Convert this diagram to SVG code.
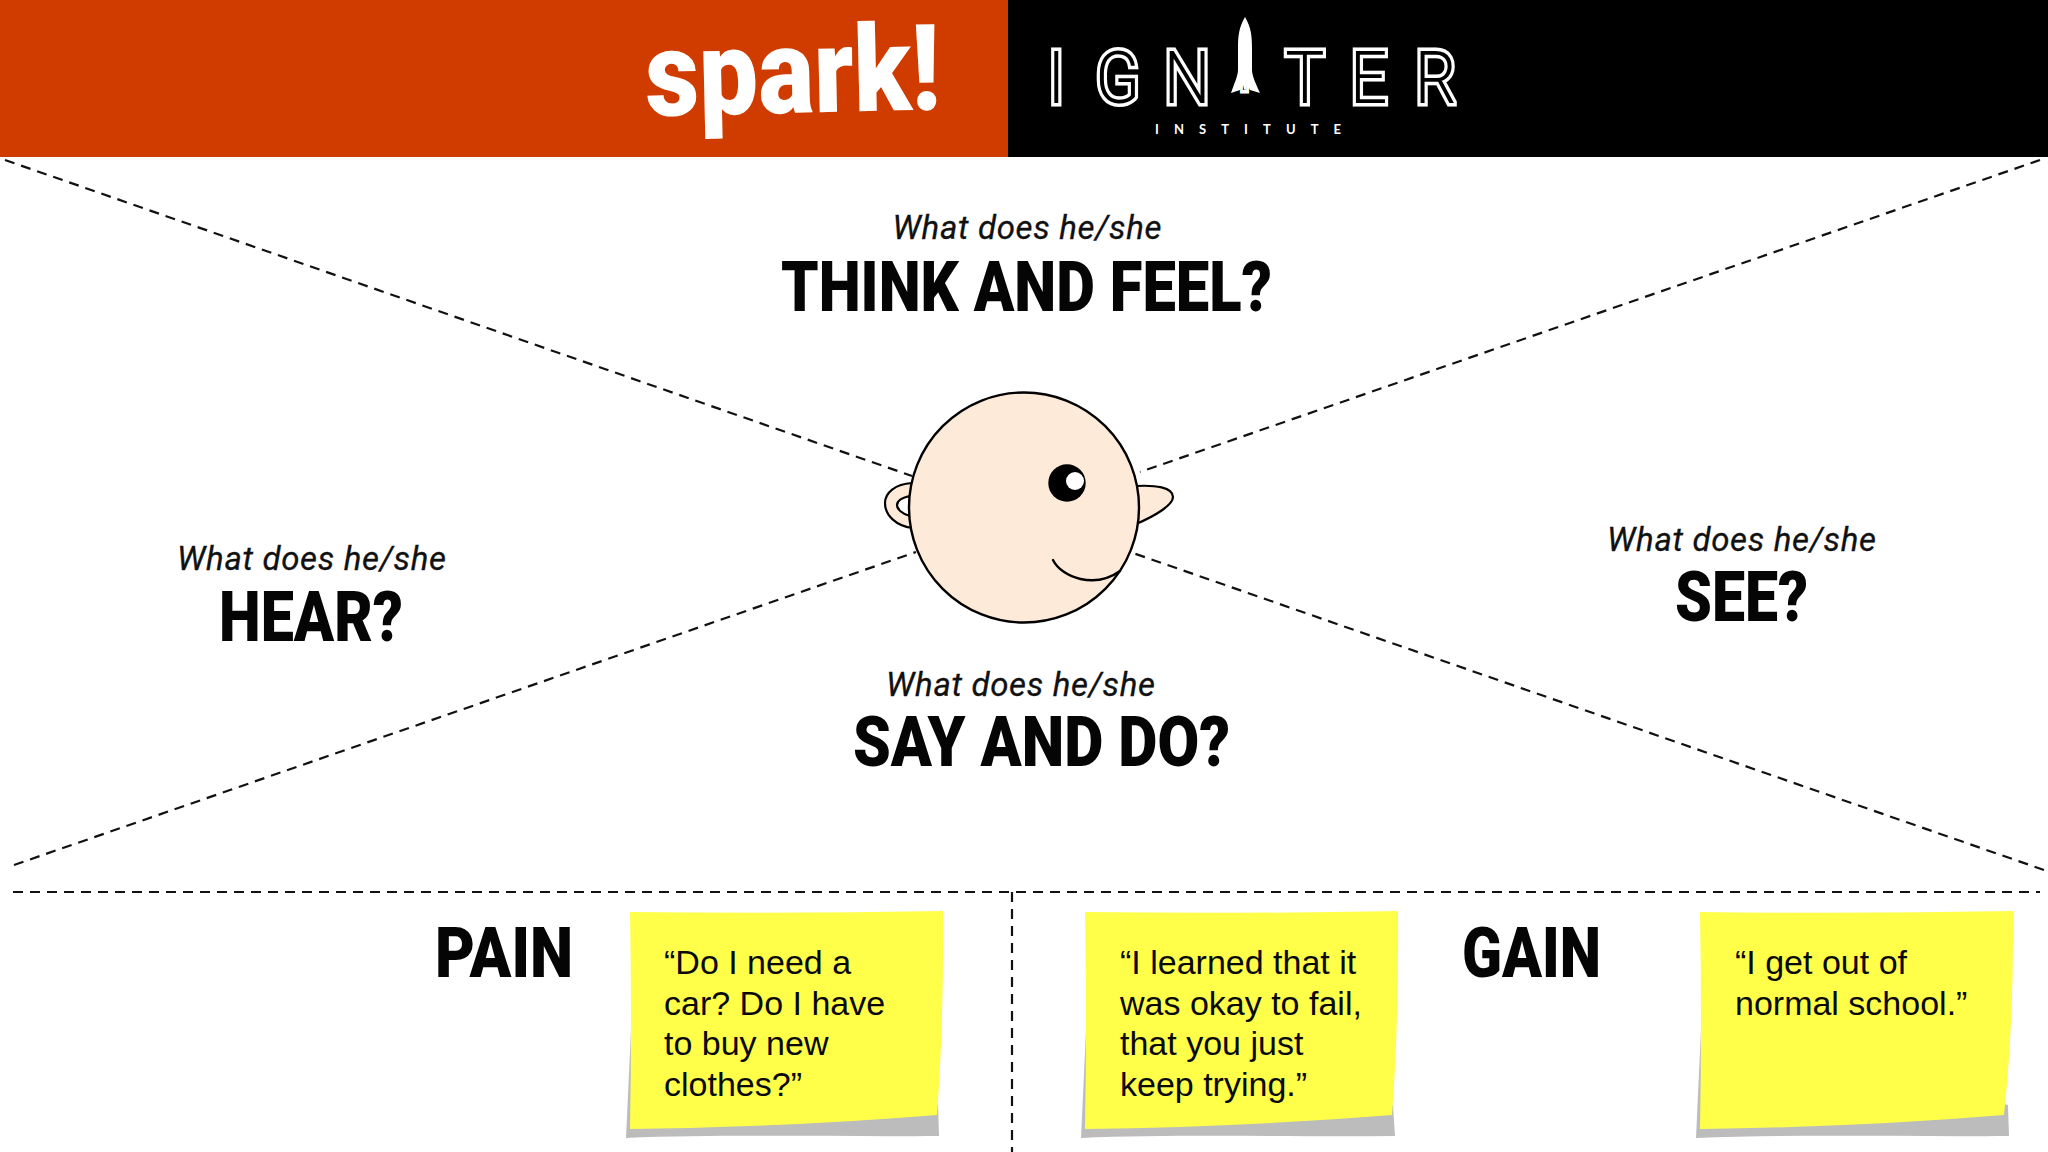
<svg xmlns="http://www.w3.org/2000/svg" width="2048" height="1152" viewBox="0 0 2048 1152">
<style>
.q{font-family:Roboto,"Open Sans",sans-serif;font-style:italic;font-size:33px;fill:#111;stroke:#111;stroke-width:.3}
.h{font-family:Roboto,"Open Sans",sans-serif;font-weight:900;font-size:71px;fill:#050505}
.n{font-family:"Liberation Sans",Arial,sans-serif;font-size:34px;fill:#0a0a0a}
.d{fill:none;stroke:#111;stroke-width:2.2;stroke-dasharray:10 7}
.o{stroke:#000;stroke-width:2.4;stroke-linecap:round}
.stick{fill:#ffff4a}
.sh{fill:#bcbcbc}
.ig{font-family:Roboto,sans-serif;font-weight:300;font-size:73px;fill:#000;stroke:#fff;stroke-width:7;paint-order:stroke}
</style>
<rect width="2048" height="1152" fill="#fff"/>
<g id="header">
<rect x="0" y="0" width="1008" height="157" fill="#d03c00"/>
<rect x="1008" y="0" width="1040" height="157" fill="#000"/>
<text transform="rotate(-1.3 646 116)" x="646" y="116" font-family="Roboto,sans-serif" font-weight="900" font-size="120" fill="#fff" textLength="295" lengthAdjust="spacingAndGlyphs">spark!</text>
<text class="ig" y="103" transform="scale(.9 1)"><tspan x="1164">I</tspan><tspan x="1217">G</tspan><tspan x="1293">N</tspan><tspan x="1376" y="90" font-size="50">I</tspan><tspan x="1428" y="103">T</tspan><tspan x="1500">E</tspan><tspan x="1572">R</tspan></text>
<path d="M1245 17C1239 27 1238 36 1238 48V70C1238 76 1234 84 1231 93L1240 90L1243 85L1245 92L1247 85L1250 90L1260 93C1256 84 1252 76 1252 70V48C1252 36 1251 27 1245 17Z" fill="#fff"/>
<text x="1155" y="134" font-family="Lato,'Open Sans',sans-serif" font-weight="700" font-size="13" fill="#fff" textLength="186">INSTITUTE</text>
</g>
<g id="connectors">
<path class="d" d="M5 160L912 476"/>
<path class="d" d="M2040 160L1140 472"/>
<path class="d" d="M14 865L916 552"/>
<path class="d" d="M2044 870L1133 553"/>
<path class="d" d="M13 892H2040"/>
<path class="d" d="M1012 892V1152"/>
</g>
<g id="head">
<path d="M912 483C895 484 885 493 885 503C885 516 897 526 912 528Z" fill="#feead9" stroke="#000" stroke-width="2.2"/>
<path d="M910 496C901 498 897 501 897 505C897 509 902 514 910 516Z" fill="#fff" stroke="#000" stroke-width="2.2"/>
<path d="M1136 486C1155 485 1173 487 1173 497C1173 505 1155 516 1136 524Z" fill="#feead9" stroke="#000" stroke-width="2.2"/>
<circle cx="1024" cy="507.5" r="115" fill="#feead9" stroke="#000" stroke-width="2.4"/>
<circle cx="1067" cy="483" r="18.7" fill="#000"/>
<circle cx="1075" cy="481" r="9" fill="#fff"/>
<path class="o" fill="none" d="M1053 560C1062 578 1095 589 1120 571"/>
</g>
<g id="think"><text class="q" x="892.500" y="239" textLength="269">What does he/she</text><text class="h" x="781" y="311" textLength="491" lengthAdjust="spacingAndGlyphs">THINK AND FEEL?</text></g>
<g id="hear"><text class="q" x="177" y="570" textLength="269">What does he/she</text><text class="h" x="219" y="641" textLength="184" lengthAdjust="spacingAndGlyphs">HEAR?</text></g>
<g id="see"><text class="q" x="1607" y="551" textLength="269">What does he/she</text><text class="h" x="1675" y="621" textLength="133" lengthAdjust="spacingAndGlyphs">SEE?</text></g>
<g id="say"><text class="q" x="886" y="696" textLength="269">What does he/she</text><text class="h" x="853" y="766" textLength="377" lengthAdjust="spacingAndGlyphs">SAY AND DO?</text></g>
<g id="pain"><text class="h" x="435" y="977" textLength="138" lengthAdjust="spacingAndGlyphs">PAIN</text></g>
<g id="gain"><text class="h" x="1462" y="977" textLength="139" lengthAdjust="spacingAndGlyphs">GAIN</text></g>
<g id="note1">
<path class="sh" d="M631 1030L626 1138C720 1134 840 1137 939 1136L938 1105Z"/>
<path class="stick" d="M630 912Q790 914 943 911Q944 1020 937 1115Q790 1127 630 1129Q632 1020 630 912Z"/>
<text class="n"><tspan x="664" y="974">“Do I need a</tspan><tspan x="664" y="1014.5">car? Do I have</tspan><tspan x="664" y="1055">to buy new</tspan><tspan x="664" y="1095.5">clothes?”</tspan></text>
</g>
<g id="note2">
<path class="sh" d="M1086 1030L1081 1138C1175 1134 1295 1137 1395 1136L1393 1105Z"/>
<path class="stick" d="M1085 912Q1245 914 1398 911Q1399 1020 1392 1115Q1245 1127 1085 1129Q1087 1020 1085 912Z"/>
<text class="n"><tspan x="1120" y="974">“I learned that it</tspan><tspan x="1120" y="1014.5">was okay to fail,</tspan><tspan x="1120" y="1055">that you just</tspan><tspan x="1120" y="1095.5">keep trying.”</tspan></text>
</g>
<g id="note3">
<path class="sh" d="M1701 1030L1696 1138C1790 1134 1910 1137 2009 1136L2008 1105Z"/>
<path class="stick" d="M1700 912Q1860 914 2013 911Q2014 1020 2004 1115Q1860 1127 1700 1129Q1702 1020 1700 912Z"/>
<text class="n"><tspan x="1735" y="974">“I get out of</tspan><tspan x="1735" y="1014.5">normal school.”</tspan></text>
</g>
</svg>
